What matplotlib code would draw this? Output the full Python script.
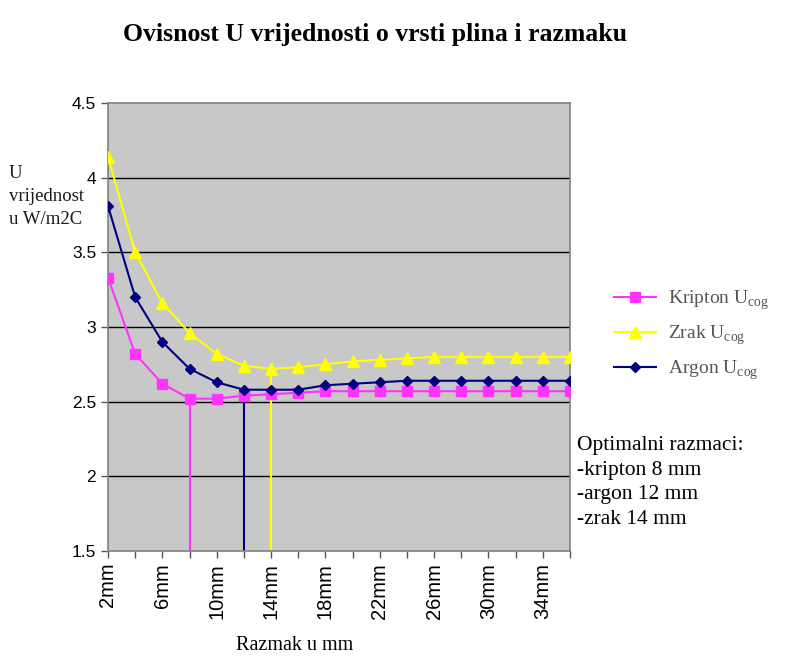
import matplotlib
matplotlib.use("Agg")
import matplotlib.pyplot as plt
import numpy as np

# data
razmak = [2, 4, 6, 8, 10, 12, 14, 16, 18, 20, 22, 24, 26, 28, 30, 32, 34, 36]
kripton = [3.33, 2.82, 2.62, 2.52, 2.52, 2.54, 2.55, 2.56, 2.57, 2.57, 2.57, 2.57,
           2.57, 2.57, 2.57, 2.57, 2.57, 2.57]
zrak = [4.14, 3.50, 3.16, 2.96, 2.82, 2.74, 2.72, 2.73, 2.75, 2.77, 2.78, 2.79,
        2.80, 2.80, 2.80, 2.80, 2.80, 2.80]
argon = [3.81, 3.20, 2.90, 2.72, 2.63, 2.58, 2.58, 2.58, 2.61, 2.62, 2.63, 2.64,
         2.64, 2.64, 2.64, 2.64, 2.64, 2.64]
optimum = {"kripton": 8, "argon": 12, "zrak": 14}
y_ticks = [1.5, 2, 2.5, 3, 3.5, 4, 4.5]

plt.rcParams['mathtext.fontset'] = 'custom'
plt.rcParams['mathtext.rm'] = 'Liberation Serif'
serif = 'Liberation Serif'
sans = 'Liberation Sans'

fig = plt.figure(figsize=(7.86, 6.71), dpi=100)
ax = fig.add_axes([108 / 786, 1 - 551 / 671, 462 / 786, 448 / 671])
ax.set_facecolor('#c8c8c8')

x = np.arange(len(razmak))
labels = [f"{r}mm" for r in razmak]

for y in y_ticks[1:-1]:
    ax.axhline(y, color='black', lw=1.0, zorder=1)

series = [
    ("kripton", kripton, '#ff33ff', 's', 7, r'Kripton U$_{\mathregular{cog}}$'),
    ("zrak", zrak, '#ffff00', '^', 8, r'Zrak U$_{\mathregular{cog}}$'),
    ("argon", argon, '#000080', 'D', 5.5, r'Argon U$_{\mathregular{cog}}$'),
]
handles = []
for key, vals, col, mk, ms, lab in series:
    i = razmak.index(optimum[key])
    ax.vlines(x[i], 1.5, vals[i], color=col, lw=1.5, zorder=2)
for key, vals, col, mk, ms, lab in series:
    h, = ax.plot(x, vals, color=col, marker=mk, markersize=ms, lw=1.5, label=lab, zorder=3)
    handles.append(h)

ax.set_xlim(0, len(razmak) - 1)
ax.set_ylim(1.5, 4.5)
ax.set_yticks(y_ticks)
ax.set_yticklabels([f"{v:g}" for v in y_ticks], fontfamily=sans, fontsize=12.5)
ax.set_xticks(x)
ax.set_xticklabels([lab if i % 2 == 0 else "" for i, lab in enumerate(labels)],
                   rotation=90, fontfamily=sans, fontsize=14.5)
ax.tick_params(direction='out', length=5, color='#555555', width=1)

for s in ['left', 'bottom', 'top', 'right']:
    ax.spines[s].set_color('#808080')
    ax.spines[s].set_linewidth(1.2)

fig.text(375 / 786, 1 - 35 / 671, "Ovisnost U vrijednosti o vrsti plina i razmaku",
         ha='center', va='center', fontfamily=serif, fontweight='bold', fontsize=18.5)
fig.text(9 / 786, 1 - 165 / 671, "U\nvrijednost\nu W/m2C", ha='left', va='top',
         fontfamily=serif, fontsize=13.5, color='#1a1a1a', linespacing=1.45)
fig.text(295 / 786, 1 - 645 / 671, "Razmak u mm", ha='center', va='center',
         fontfamily=serif, fontsize=14.5)
fig.text(577 / 786, 1 - 436 / 671,
         "Optimalni razmaci:\n-kripton 8 mm\n-argon 12 mm\n-zrak 14 mm",
         ha='left', va='top', fontfamily=serif, fontsize=15.5, linespacing=1.4)

leg = fig.legend(handles=handles, loc='upper left', bbox_to_anchor=(596 / 786, 1 - 271 / 671),
                 frameon=False, prop={'family': serif, 'size': 14}, labelcolor='#555555',
                 handlelength=2.2, labelspacing=0.6, handletextpad=0.6)

fig.savefig("out.png", dpi=100)
